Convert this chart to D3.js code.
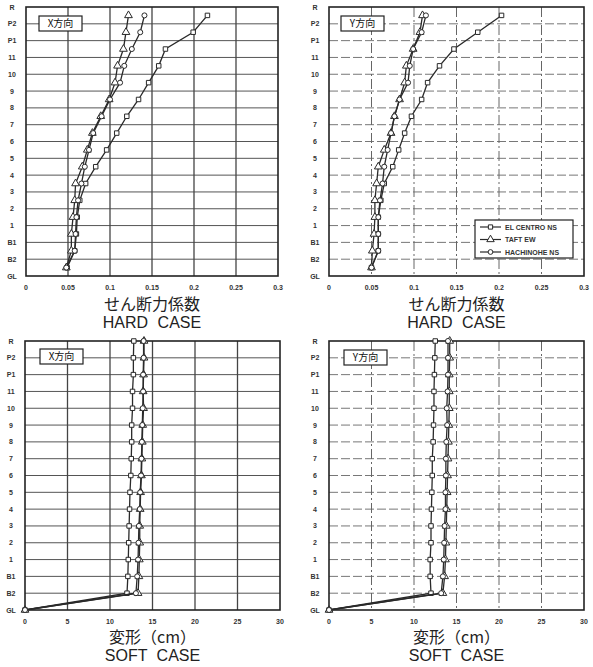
<!DOCTYPE html>
<html><head><meta charset="utf-8">
<script src="https://cdn.jsdelivr.net/npm/d3@7"></script>
<style>body{margin:0;background:#fff}svg{display:block}</style>
</head><body>
<svg id="c" width="593" height="667"></svg>
<script>
// ---------- data ----------
const floors = ["R","P2","P1","11","10","9","8","7","6","5","4","3","2","1","B1","B2","GL"];
const seriesNames = ["EL CENTRO NS","TAFT EW","HACHINOHE NS"];
const shearTicks = [0,0.05,0.1,0.15,0.2,0.25,0.3];
const shearTickLabels = ["0","0.05","0.1","0.15","0.2","0.25","0.3"];
const dispTicks = [0,5,10,15,20,25,30];
const dispTickLabels = ["0","5","10","15","20","25","30"];

// story shear coefficients (stories from R-P2 down to B2-GL)
const shearX_elcentro = [0.216,0.199,0.166,0.158,0.146,0.134,0.120,0.108,0.096,0.083,0.071,0.064,0.061,0.060,0.058,0.049];
const shearX_taft     = [0.122,0.119,0.116,0.109,0.106,0.099,0.089,0.079,0.073,0.067,0.059,0.058,0.056,0.054,0.054,0.048];
const shearX_hachi    = [0.141,0.136,0.126,0.117,0.112,0.100,0.090,0.080,0.075,0.070,0.066,0.062,0.060,0.059,0.058,0.048];
const shearY_elcentro = [0.203,0.175,0.147,0.130,0.116,0.109,0.097,0.089,0.082,0.075,0.065,0.061,0.058,0.058,0.058,0.050];
const shearY_taft     = [0.110,0.107,0.099,0.091,0.089,0.083,0.077,0.073,0.065,0.058,0.056,0.054,0.054,0.053,0.051,0.050];
const shearY_hachi    = [0.114,0.109,0.099,0.095,0.093,0.083,0.077,0.073,0.069,0.065,0.063,0.060,0.058,0.058,0.058,0.050];

// floor displacements (cm), R down to GL
const dispX_elcentro = [12.8,12.75,12.75,12.65,12.65,12.55,12.55,12.5,12.45,12.35,12.3,12.25,12.2,12.15,12.1,12.0,0];
const dispX_taft     = [14.0,14.0,13.95,13.9,13.95,13.85,13.8,13.75,13.7,13.6,13.55,13.5,13.5,13.45,13.4,13.3,0];
const dispX_hachi    = [13.95,13.95,13.9,13.9,13.85,13.8,13.75,13.7,13.65,13.55,13.5,13.4,13.35,13.3,13.2,13.05,0];
const dispY_elcentro = [12.5,12.45,12.4,12.35,12.35,12.3,12.25,12.15,12.15,12.1,12.05,12.0,12.0,11.9,11.9,12.0,0];
const dispY_taft     = [14.2,14.2,14.15,14.15,14.15,14.1,14.05,14.0,13.95,13.9,13.85,13.8,13.75,13.7,13.6,13.4,0];
const dispY_hachi    = [14.0,14.0,14.0,13.95,13.85,13.9,13.8,13.75,13.75,13.7,13.7,13.6,13.55,13.5,13.4,13.2,0];

// ---------- drawing ----------
const svg = d3.select("#c");
const markers = [d3.symbolSquare, d3.symbolTriangle, d3.symbolCircle];
const ink = "#2a2a2a";

const panels = [
  {x0:26,x1:278,y0:7,y1:276,domain:[0,0.3],ticks:shearTicks,tickLabels:shearTickLabels,
   series:[shearX_elcentro,shearX_taft,shearX_hachi],mode:"story",tag:"X方向",tagBox:[39,16],
   dashed:false,t1:"せん断力係数",t2:"HARD CASE",tickY:290,t1Y:310,t2Y:328,legend:false},
  {x0:329,x1:584,y0:7,y1:276,domain:[0,0.3],ticks:shearTicks,tickLabels:shearTickLabels,
   series:[shearY_elcentro,shearY_taft,shearY_hachi],mode:"story",tag:"Y方向",tagBox:[341,16],
   dashed:true,t1:"せん断力係数",t2:"HARD CASE",tickY:290,t1Y:310,t2Y:328,legend:true},
  {x0:25,x1:280,y0:341,y1:610,domain:[0,30],ticks:dispTicks,tickLabels:dispTickLabels,
   series:[dispX_elcentro,dispX_taft,dispX_hachi],mode:"floor",tag:"X方向",tagBox:[40,349],
   dashed:false,t1:"変形（cm）",t2:"SOFT CASE",tickY:624,t1Y:643,t2Y:661,legend:false},
  {x0:329,x1:584,y0:341,y1:610,domain:[0,30],ticks:dispTicks,tickLabels:dispTickLabels,
   series:[dispY_elcentro,dispY_taft,dispY_hachi],mode:"floor",tag:"Y方向",tagBox:[344,350],
   dashed:true,t1:"変形（cm）",t2:"SOFT CASE",tickY:624,t1Y:643,t2Y:661,legend:false}
];

panels.forEach(p => {
  const g = svg.append("g");
  const x = d3.scaleLinear().domain(p.domain).range([p.x0, p.x1]);
  const y = d3.scalePoint().domain(floors).range([p.y0, p.y1]).padding(0);

  // horizontal grid at floor levels
  g.selectAll(".hg").data(floors.slice(1, -1)).enter().append("line")
    .attr("x1", p.x0).attr("x2", p.x1)
    .attr("y1", d => y(d)).attr("y2", d => y(d))
    .attr("stroke", p.dashed ? "#777" : "#555").attr("stroke-width", 1)
    .attr("stroke-dasharray", p.dashed ? "9,3" : null);
  // vertical grid
  g.selectAll(".vg").data(p.ticks.slice(1, -1)).enter().append("line")
    .attr("x1", d => x(d)).attr("x2", d => x(d))
    .attr("y1", p.y0).attr("y2", p.y1)
    .attr("stroke", p.dashed ? "#666" : "#444").attr("stroke-width", p.dashed ? 1 : 1.3)
    .attr("stroke-dasharray", p.dashed ? "10,3,2,3" : null);
  // frame
  g.append("rect").attr("x", p.x0).attr("y", p.y0)
    .attr("width", p.x1 - p.x0).attr("height", p.y1 - p.y0)
    .attr("fill", "none").attr("stroke", "#222").attr("stroke-width", 1.6);

  // y tick labels
  g.selectAll(".yl").data(floors).enter().append("text")
    .attr("x", p.x0 - 14).attr("y", d => y(d) + 2.5)
    .attr("text-anchor", "middle")
    .attr("font-family", "Liberation Sans, Arial, sans-serif")
    .attr("font-size", 7).attr("font-weight", "bold").attr("fill", "#333")
    .text(d => d);
  // x tick labels
  g.selectAll(".xl").data(p.ticks).enter().append("text")
    .attr("x", d => x(d)).attr("y", p.tickY)
    .attr("text-anchor", "middle")
    .attr("font-family", "Liberation Sans, Arial, sans-serif")
    .attr("font-size", 7).attr("font-weight", "bold").attr("fill", "#333")
    .text((d, i) => p.tickLabels[i]);

  // axis titles
  const cx = (p.x0 + p.x1) / 2;
  g.append("text").attr("x", cx).attr("y", p.t1Y).attr("text-anchor", "middle")
    .attr("font-family", "Noto Sans CJK JP, sans-serif").attr("font-size", 16)
    .attr("fill", "#222").text(p.t1);
  g.append("text").attr("x", cx).attr("y", p.t2Y).attr("text-anchor", "middle")
    .attr("font-family", "Liberation Sans, Arial, sans-serif").attr("font-size", 16)
    .attr("word-spacing", 5).attr("fill", "#222").text(p.t2);

  // tag box
  const [bx, by] = p.tagBox;
  g.append("rect").attr("x", bx).attr("y", by).attr("width", 43).attr("height", 15)
    .attr("fill", "#fff").attr("stroke", "#222").attr("stroke-width", 1.2);
  g.append("text").attr("x", bx + 21.5).attr("y", by + 11).attr("text-anchor", "middle")
    .attr("font-family", "Noto Sans CJK JP, sans-serif").attr("font-size", 10)
    .attr("fill", "#111").text(p.tag);

  // series
  const yPos = (i) => p.mode === "story" ? (y(floors[i]) + y(floors[i + 1])) / 2 : y(floors[i]);
  const line = d3.line().x(d => x(d.v)).y(d => d.y);
  p.series.forEach((vals, s) => {
    const pts = vals.map((v, i) => ({v: v, y: yPos(i)}));
    g.append("path").datum(pts).attr("d", line)
      .attr("fill", "none").attr("stroke", ink).attr("stroke-width", 1.3);
    g.selectAll(".m" + s).data(pts).enter().append("path")
      .attr("transform", d => `translate(${x(d.v)},${d.y})`)
      .attr("d", d3.symbol().type(markers[s]).size(s === 1 ? 26 : 20))
      .attr("fill", "#fff").attr("stroke", ink).attr("stroke-width", 1);
  });

  // legend
  if (p.legend) {
    const lx = 475, ly = 220, lw = 98, lh = 38;
    const lg = g.append("g");
    lg.append("rect").attr("x", lx).attr("y", ly).attr("width", lw).attr("height", lh)
      .attr("fill", "#fff").attr("stroke", "#222").attr("stroke-width", 1.2);
    seriesNames.forEach((name, s) => {
      const yy = ly + 7 + s * 12.5;
      lg.append("line").attr("x1", lx + 5).attr("x2", lx + 26).attr("y1", yy).attr("y2", yy)
        .attr("stroke", ink).attr("stroke-width", 1.2);
      lg.append("path").attr("transform", `translate(${lx + 15.5},${yy})`)
        .attr("d", d3.symbol().type(markers[s]).size(s === 1 ? 24 : 18))
        .attr("fill", "#fff").attr("stroke", ink).attr("stroke-width", 1);
      lg.append("text").attr("x", lx + 30).attr("y", yy + 2.5)
        .attr("font-family", "Liberation Sans, Arial, sans-serif")
        .attr("font-size", 7).attr("font-weight", "bold").attr("fill", "#333").text(name);
    });
  }
});
</script>
</body></html>
